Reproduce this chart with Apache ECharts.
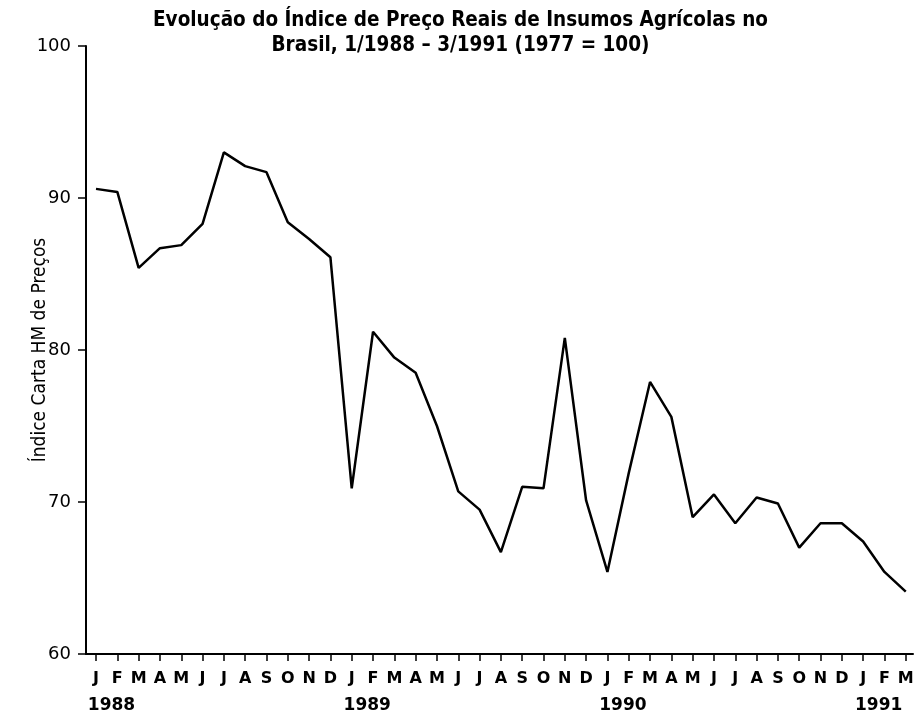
<!DOCTYPE html>
<html>
<head>
<meta charset="utf-8">
<script src="https://cdn.jsdelivr.net/npm/echarts@6/dist/echarts.min.js"></script>
<style>
html,body{margin:0;padding:0;background:#fff;}
#chart{width:921px;height:716px;}
</style>
</head>
<body>
<div id="chart"></div>
<script>
// ---- data ----
const monthLetters = ['J','F','M','A','M','J','J','A','S','O','N','D'];
const years = ['1988','1989','1990','1991'];
const monthsPerYear = [12, 12, 12, 3];
const values1988 = [90.6, 90.4, 85.4, 86.7, 86.9, 88.3, 93.0, 92.1, 91.7, 88.4, 87.3, 86.1];
const values1989 = [70.9, 81.2, 79.5, 78.5, 75.0, 70.7, 69.5, 66.7, 71.0, 70.9, 80.8, 70.1];
const values1990 = [65.4, 71.9, 77.9, 75.6, 69.0, 70.5, 68.6, 70.3, 69.9, 67.0, 68.6, 68.6];
const values1991 = [67.4, 65.4, 64.1];
const yTicks = [60, 70, 80, 90, 100];

// ---- build ----
const categories = [];
const yearAt = {};
const yearIdx = [];
years.forEach((y, yi) => {
  yearAt[categories.length] = y;
  yearIdx.push(categories.length);
  for (let m = 0; m < monthsPerYear[yi]; m++) categories.push(monthLetters[m]);
});
const values = [].concat(values1988, values1989, values1990, values1991);
const seriesData = values.map((v, i) => [i, v]);
const tickIdx = categories.map((c, i) => i);
const X_MIN = -0.47, X_MAX = 38.34;

const chart = echarts.init(document.getElementById('chart'), null, {renderer: 'canvas'});
chart.setOption({
  backgroundColor: '#fff',
  animation: false,
  title: {
    text: 'Evolução do Índice de Preço Reais de Insumos Agrícolas no\nBrasil, 1/1988 \u2013 3/1991 (1977 = 100)',
    left: 'center',
    top: 3,
    textStyle: {
      fontFamily: '"DejaVu Sans Condensed", "DejaVu Sans", sans-serif',
      fontWeight: 'bold',
      fontSize: 20.5,
      lineHeight: 25,
      color: '#000'
    }
  },
  grid: {left: 86, right: 8, top: 46, bottom: 62, containLabel: false, outerBoundsMode: 'none'},
  xAxis: [{
    type: 'value',
    position: 'bottom',
    min: X_MIN,
    max: X_MAX,
    splitLine: {show: false},
    axisLine: {show: true, onZero: false, lineStyle: {color: '#000', width: 2}},
    axisTick: {show: true, customValues: tickIdx, length: 7, lineStyle: {color: '#000', width: 1.5}},
    axisLabel: {
      show: true,
      customValues: tickIdx,
      hideOverlap: false,
      margin: 14,
      color: '#000',
      fontFamily: '"DejaVu Sans", sans-serif',
      fontWeight: 'bold',
      fontSize: 16,
      lineHeight: 22,
      formatter: function (v) { return categories[Math.round(v)]; }
    }
  }, {
    type: 'value',
    position: 'bottom',
    offset: 0,
    min: X_MIN,
    max: X_MAX,
    splitLine: {show: false},
    axisLine: {show: false, onZero: false},
    axisTick: {show: false},
    axisLabel: {
      show: true,
      customValues: yearIdx,
      hideOverlap: false,
      margin: 42,
      color: '#000',
      formatter: function (v) { return '{y|' + yearAt[Math.round(v)] + '}'; },
      rich: {
        y: {fontFamily: '"DejaVu Sans", sans-serif', fontWeight: 'bold', fontSize: 17, lineHeight: 20, color: '#000', padding: [0, 0, 0, 31]}
      }
    }
  }],
  yAxis: {
    type: 'value',
    min: yTicks[0],
    max: yTicks[yTicks.length - 1],
    interval: 10,
    name: 'Índice Carta HM de Preços',
    nameLocation: 'middle',
    nameGap: 36,
    nameRotate: 90,
    nameMoveOverlap: false,
    nameTextStyle: {fontFamily: '"DejaVu Sans Condensed", "DejaVu Sans", sans-serif', fontSize: 19, color: '#000'},
    splitLine: {show: false},
    axisLine: {show: true, onZero: false, lineStyle: {color: '#000', width: 2}},
    axisTick: {show: true, length: 8, lineStyle: {color: '#000', width: 1.5}},
    axisLabel: {
      margin: 15,
      color: '#000',
      fontFamily: '"DejaVu Sans", sans-serif',
      fontSize: 18
    }
  },
  series: [{
    type: 'line',
    xAxisIndex: 0,
    data: seriesData,
    showSymbol: false,
    symbol: 'none',
    lineStyle: {color: '#000', width: 2.5},
    silent: true
  }]
});
</script>
</body>
</html>
